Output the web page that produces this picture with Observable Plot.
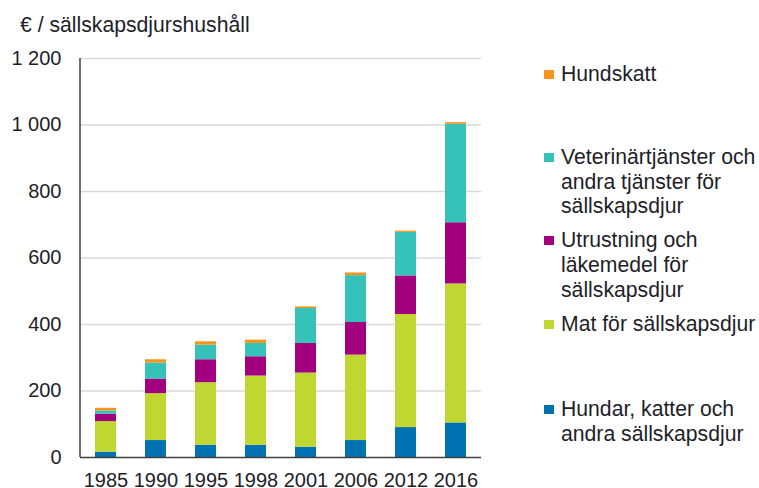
<!DOCTYPE html>
<html>
<head>
<meta charset="utf-8">
<script src="https://cdn.jsdelivr.net/npm/d3@7"></script>
<script src="https://cdn.jsdelivr.net/npm/@observablehq/plot@0.6"></script>
<style>
  body { margin: 0; background: #fff; }
  #wrap { position: relative; width: 759px; height: 488px; overflow: hidden; font-family: "Liberation Sans", Arial, sans-serif; color: #1e1e28; }
  #title { position: absolute; left: 20px; top: 13px; font-size: 21.2px; white-space: nowrap; }
  .leg { position: absolute; left: 544px; font-size: 21.2px; line-height: 24.7px; white-space: nowrap; }
  .leg .sw { position: absolute; left: 0; top: 8px; width: 10px; height: 9px; }
  .leg .tx { position: absolute; left: 17px; top: 0; }
  #chart { position: absolute; left: 0; top: 0; }
</style>
</head>
<body>
<div id="wrap">
  <div id="chart"></div>
  <div id="title">€ / sällskapsdjurshushåll</div>
  <div id="legend"></div>
</div>
<script>
const years = ["1985", "1990", "1995", "1998", "2001", "2006", "2012", "2016"];
const categories = [
  "Hundar, katter och andra sällskapsdjur",
  "Mat för sällskapsdjur",
  "Utrustning och läkemedel för sällskapsdjur",
  "Veterinärtjänster och andra tjänster för sällskapsdjur",
  "Hundskatt"
];
const legendLines = [
  ["Hundar, katter och", "andra sällskapsdjur"],
  ["Mat för sällskapsdjur"],
  ["Utrustning och", "läkemedel för", "sällskapsdjur"],
  ["Veterinärtjänster och", "andra tjänster för", "sällskapsdjur"],
  ["Hundskatt"]
];
const colors = ["#0072b1", "#bfd730", "#a3007f", "#35c2b8", "#f7941e"];
const hundar     = [16, 51, 37, 37, 31, 51, 90, 104];
const mat        = [92, 141, 188, 208, 223, 257, 340, 418];
const utrustning = [22, 44, 69, 58, 89, 98, 116, 184];
const veterinar  = [10, 48, 44, 40, 105, 141, 131, 296];
const hundskatt  = [8, 10, 10, 10, 5, 8, 4, 5];
const yTicks = [0, 200, 400, 600, 800, 1000, 1200];

const series = [hundar, mat, utrustning, veterinar, hundskatt];
const data = [];
years.forEach((yr, i) => {
  categories.forEach((c, k) => data.push({year: yr, category: c, value: series[k][i]}));
});

const fmt = d => d3.format(",")(d).replace(/,/g, "\u00a0");

// y-axis line drawn at the left edge of the frame
function leftAxisLine(index, scales, values, dims) {
  const g = d3.create("svg:g");
  g.append("line")
    .attr("x1", dims.marginLeft).attr("x2", dims.marginLeft)
    .attr("y1", scales.y(1200)).attr("y2", scales.y(0))
    .attr("stroke", "#404040").attr("stroke-width", 1.5);
  return g.node();
}

const chart = Plot.plot({
  width: 759,
  height: 488,
  marginLeft: 80,
  marginRight: 278,
  marginTop: 58,
  marginBottom: 31,
  style: {fontFamily: "'Liberation Sans', Arial, sans-serif", fontSize: "20px", color: "#1e1e28", background: "#fff"},
  x: {domain: years, paddingInner: 0.58, paddingOuter: 0.29, label: null, tickSize: 0, tickPadding: 16},
  y: {domain: [0, 1200], ticks: yTicks, label: null, tickSize: 0, tickPadding: 19, tickFormat: fmt},
  color: {domain: categories, range: colors},
  marks: [
    Plot.gridY(yTicks.filter(d => d > 0), {stroke: "#d9d9d9", strokeOpacity: 1, strokeWidth: 1.5}),
    Plot.barY(data, Plot.stackY({x: "year", y: "value", fill: "category", order: categories})),
    leftAxisLine,
    Plot.ruleY([0], {stroke: "#404040", strokeWidth: 1.5}),
    Plot.axisY({ticks: yTicks, tickSize: 0, tickPadding: 19, tickFormat: fmt, label: null}),
    Plot.axisX({tickSize: 0, tickPadding: 15, label: null})
  ]
});
document.getElementById("chart").appendChild(chart);

// legend (top-line centre positions)
const legendCenters = [409.3, 324, 240.7, 157.3, 74];
const leg = document.getElementById("legend");
categories.forEach((c, k) => {
  const d = document.createElement("div");
  d.className = "leg";
  d.style.top = (legendCenters[k] - 12.35) + "px";
  d.innerHTML = `<div class="sw" style="background:${colors[k]}"></div><div class="tx">${legendLines[k].join("<br>")}</div>`;
  leg.appendChild(d);
});
</script>
</body>
</html>
